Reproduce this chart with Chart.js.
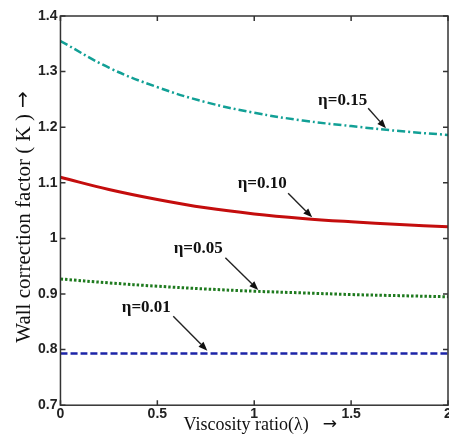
<!DOCTYPE html>
<html>
<head>
<meta charset="utf-8">
<script src="https://cdn.jsdelivr.net/npm/chart.js@4.4.1/dist/chart.umd.min.js"></script>
<style>
  html, body { margin: 0; padding: 0; background: #fff; overflow: hidden; }
  #wrap { width: 456px; height: 445px; }
</style>
</head>
<body>
<div id="wrap"><canvas id="kChart"></canvas></div>
<script>
// viscosity ratio samples
const lambda = [0, 0.25, 0.5, 0.75, 1, 1.25, 1.5, 1.75, 2];

// wall correction factor K for each blockage ratio eta
const k015 = [1.355, 1.307, 1.272, 1.245, 1.226, 1.212, 1.202, 1.193, 1.186];
const k010 = [1.110, 1.088, 1.070, 1.055, 1.044, 1.036, 1.030, 1.025, 1.021];
const k005 = [0.927, 0.920, 0.914, 0.909, 0.905, 0.902, 0.899, 0.897, 0.895];
const k001 = [0.793, 0.793, 0.793, 0.793, 0.793, 0.793, 0.793, 0.793, 0.793];

const xTicks = [0, 0.5, 1, 1.5, 2];
const yTicks = [0.7, 0.8, 0.9, 1, 1.1, 1.2, 1.3, 1.4];

const xTitle = "Viscosity ratio(λ)";
const yTitle = "Wall correction factor ( K )";

// curve labels: text, label centre and arrow (data units)
const notes = [
  { text: "η=0.15", at: [1.456, 1.248], from: [1.588, 1.234], to: [1.68, 1.198] },
  { text: "η=0.10", at: [1.041, 1.099], from: [1.175, 1.081], to: [1.299, 1.038] },
  { text: "η=0.05", at: [0.711, 0.981], from: [0.851, 0.965], to: [1.021, 0.907] },
  { text: "η=0.01", at: [0.443, 0.875], from: [0.582, 0.860], to: [0.758, 0.798] },
];

const pts = (ys) => lambda.map((x, i) => ({ x: x, y: ys[i] }));

const serif = "'Liberation Serif', 'Times New Roman', serif";
const arrowFont = "'DejaVu Sans', sans-serif";

// title text followed by a full-size arrow glyph, centred on (0,0)
function drawTitle(ctx, text, size, gap) {
  ctx.font = size + "px " + serif;
  const w1 = ctx.measureText(text).width;
  ctx.font = (size - 1) + "px " + arrowFont;
  const w2 = ctx.measureText("→").width;
  const start = -(w1 + gap + w2) / 2;
  ctx.textAlign = "left";
  ctx.textBaseline = "middle";
  ctx.font = size + "px " + serif;
  ctx.fillText(text, start, 0);
  ctx.font = (size - 1) + "px " + arrowFont;
  ctx.fillText("→", start + w1 + gap, 0);
}

// box frame with inward ticks on all four sides, axis titles and arrow labels
const framePlugin = {
  id: "frame",
  afterDatasetsDraw(chart) {
    const { ctx, chartArea: a, scales } = chart;
    const xs = scales.x, ys = scales.y;
    ctx.save();
    ctx.strokeStyle = "#333";
    ctx.lineWidth = 1.5;
    ctx.strokeRect(a.left, a.top, a.right - a.left, a.bottom - a.top);
    ctx.beginPath();
    xTicks.forEach((v) => {
      const px = xs.getPixelForValue(v);
      ctx.moveTo(px, a.bottom); ctx.lineTo(px, a.bottom - 5);
      ctx.moveTo(px, a.top); ctx.lineTo(px, a.top + 5);
    });
    yTicks.forEach((v) => {
      const py = ys.getPixelForValue(v);
      ctx.moveTo(a.left, py); ctx.lineTo(a.left + 5, py);
      ctx.moveTo(a.right, py); ctx.lineTo(a.right - 5, py);
    });
    ctx.stroke();

    ctx.fillStyle = "#111";
    ctx.save();
    ctx.translate((a.left + a.right) / 2 + 6, 425);
    drawTitle(ctx, xTitle, 18, 14);
    ctx.restore();
    ctx.save();
    ctx.translate(24, 217);
    ctx.rotate(-Math.PI / 2);
    drawTitle(ctx, yTitle, 21, 6);
    ctx.restore();

    ctx.strokeStyle = "#222";
    ctx.font = "bold 17px " + serif;
    ctx.textAlign = "center";
    ctx.textBaseline = "middle";
    notes.forEach((n) => {
      ctx.fillText(n.text, xs.getPixelForValue(n.at[0]), ys.getPixelForValue(n.at[1]));
      const x0 = xs.getPixelForValue(n.from[0]), y0 = ys.getPixelForValue(n.from[1]);
      const x1 = xs.getPixelForValue(n.to[0]), y1 = ys.getPixelForValue(n.to[1]);
      const ang = Math.atan2(y1 - y0, x1 - x0);
      const head = 9, wing = 3.5;
      const bx = x1 - head * Math.cos(ang), by = y1 - head * Math.sin(ang);
      ctx.lineWidth = 1.4;
      ctx.beginPath();
      ctx.moveTo(x0, y0); ctx.lineTo(bx, by);
      ctx.stroke();
      ctx.beginPath();
      ctx.moveTo(x1, y1);
      ctx.lineTo(bx + wing * Math.sin(ang), by - wing * Math.cos(ang));
      ctx.lineTo(bx - wing * Math.sin(ang), by + wing * Math.cos(ang));
      ctx.closePath();
      ctx.fill();
    });
    ctx.restore();
  },
};

const tickFont = { family: "'Liberation Sans', Arial, sans-serif", size: 14, weight: "bold" };

new Chart(document.getElementById("kChart"), {
  type: "scatter",
  data: {
    datasets: [
      {
        label: "η=0.15",
        data: pts(k015),
        borderColor: "#12a096",
        borderWidth: 2.5,
        borderDash: [8, 3, 2, 3],
      },
      {
        label: "η=0.10",
        data: pts(k010),
        borderColor: "#c40d0d",
        borderWidth: 3,
      },
      {
        label: "η=0.05",
        data: pts(k005),
        borderColor: "#1e7a1e",
        borderWidth: 3,
        borderDash: [2.5, 2],
      },
      {
        label: "η=0.01",
        data: pts(k001),
        borderColor: "#1c24a8",
        borderWidth: 2.5,
        borderDash: [7, 3],
      },
    ].map((d) => ({ ...d, showLine: true, pointRadius: 0, tension: 0.4, fill: false })),
  },
  options: {
    responsive: true,
    maintainAspectRatio: false,
    animation: false,
    layout: { padding: { top: 16, right: 8, left: 35, bottom: 21 } },
    plugins: {
      legend: { display: false },
      tooltip: { enabled: false },
    },
    scales: {
      x: {
        type: "linear",
        min: 0,
        max: 2,
        afterBuildTicks: (s) => { s.ticks = xTicks.map((v) => ({ value: v })); },
        ticks: {
          color: "#222",
          font: tickFont,
          padding: 1,
          maxRotation: 0,
          callback: (v) => String(+v.toFixed(2)),
        },
        grid: { drawOnChartArea: false, drawTicks: false },
        border: { display: false },
      },
      y: {
        type: "linear",
        min: 0.7,
        max: 1.4,
        afterBuildTicks: (s) => { s.ticks = yTicks.map((v) => ({ value: v })); },
        ticks: {
          color: "#222",
          font: tickFont,
          padding: 3,
          callback: (v) => String(+v.toFixed(2)),
        },
        grid: { drawOnChartArea: false, drawTicks: false },
        border: { display: false },
      },
    },
  },
  plugins: [framePlugin],
});
</script>
</body>
</html>
